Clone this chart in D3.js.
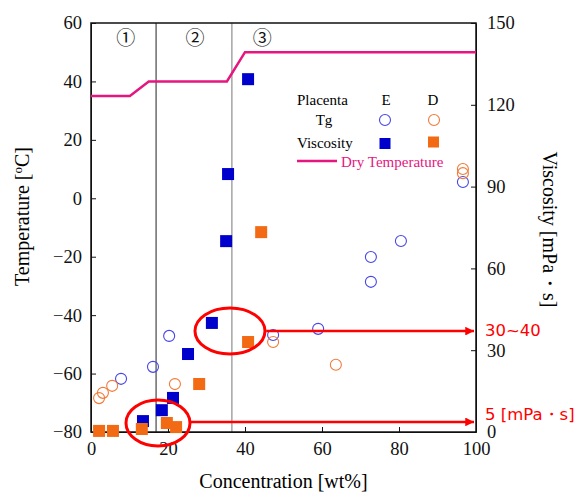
<!DOCTYPE html>
<html>
<head>
<meta charset="utf-8">
<script src="https://cdn.jsdelivr.net/npm/d3@7"></script>
<style>
  body { margin: 0; background: #fff; }
  svg { display: block; }
  .axis text { font-family: "Liberation Serif", serif; font-size: 18.5px; fill: #111; }
  .axis path, .axis line { stroke: #111; }
</style>
</head>
<body>
<script>
// data
const tgEX = [7.8, 16.1, 20.3, 47.3, 59, 72.7, 72.7, 80.5, 96.6];
const tgEY = [-61.8, -57.7, -47.1, -46.8, -44.7, -28.6, -20.1, -14.6, 5.6];
const tgDX = [2.1, 3.1, 5.5, 21.8, 47.3, 63.6, 96.6, 96.6];
const tgDY = [-68.4, -66.6, -64.2, -63.6, -49.2, -57, 10, 8.6];
const viscEX = [13.5, 18.4, 21.3, 25.2, 31.4, 35.1, 35.6, 40.8];
const viscEY = [4, 8, 12.5, 28.6, 40, 70, 94.6, 129.4];
const viscDX = [2.1, 5.7, 13.2, 19.7, 22.1, 28.1, 40.8, 44.2];
const viscDY = [0.4, 0.4, 1.1, 3.3, 1.8, 17.6, 33, 73.3];
const dryX = [0, 10.1, 15, 35.3, 40, 100];
const dryY = [35, 35, 40, 40, 50, 50];
const regionLines = [16.9, 36.6];
const regionNames = ["①", "②", "③"];
const regionMid = [9, 27, 44.5];
const tempTicks = [-80, -60, -40, -20, 0, 20, 40, 60];
const viscTicks = [0, 30, 60, 90, 120, 150];
const concTicks = [0, 20, 40, 60, 80, 100];
// annotations: ellipse centre (conc, temp), arrow start conc and viscosity level
const ringX = [36.1, 17.4];
const ringY = [-45.4, -76.9];
const arrowFrom = [45.5, 25.7];
const arrowVisc = [37, 3.7];
const arrowText = ["30~40", "5 [mPa・s]"];

const width = 580, height = 493;
const margin = { top: 23, right: 104, bottom: 61, left: 91 };
const pinkC = "#e6157f", redC = "#ff0000";

const svg = d3.select("body").append("svg")
  .attr("width", width).attr("height", height);

const x = d3.scaleLinear().domain([0, 100]).range([margin.left, width - margin.right]);
const yT = d3.scaleLinear().domain([-80, 60]).range([height - margin.bottom, margin.top]);
const yV = d3.scaleLinear().domain([0, 150]).range([height - margin.bottom, margin.top]);

const x0 = x(0), x1 = x(100), yb = yT(-80), yt = yT(60);

// region separators
svg.selectAll(".region").data(regionLines).enter().append("line")
  .attr("x1", d => x(d)).attr("x2", d => x(d))
  .attr("y1", yt).attr("y2", yb)
  .attr("stroke", (d, i) => i == 0 ? "#222" : "#777")
  .attr("stroke-width", 1);

svg.selectAll(".rname").data(regionNames).enter().append("text")
  .attr("x", (d, i) => x(regionMid[i])).attr("y", 45)
  .attr("text-anchor", "middle")
  .style("font-family", "'Noto Sans CJK JP', 'DejaVu Sans', sans-serif")
  .style("font-size", "19px").attr("fill", "#111")
  .text(d => d);

// axes
svg.append("g").attr("class", "axis")
  .attr("transform", `translate(${x0},0)`)
  .call(d3.axisLeft(yT).tickValues(tempTicks).tickSizeInner(-5).tickSizeOuter(0).tickPadding(9));
svg.append("g").attr("class", "axis")
  .attr("transform", `translate(${x1},0)`)
  .call(d3.axisRight(yV).tickValues(viscTicks).tickSizeInner(-5).tickSizeOuter(0).tickPadding(11));
svg.append("g").attr("class", "axis")
  .attr("transform", `translate(0,${yb})`)
  .call(d3.axisBottom(x).tickValues(concTicks).tickSizeInner(-5).tickSizeOuter(0).tickPadding(10));
svg.append("rect")
  .attr("x", x0).attr("y", yt).attr("width", x1 - x0).attr("height", yb - yt)
  .attr("fill", "none").attr("stroke", "#111").attr("stroke-width", 1.5);

// axis titles
svg.append("text")
  .attr("transform", `translate(29,${(yt + yb) / 2 - 11}) rotate(-90)`)
  .attr("text-anchor", "middle")
  .style("font-family", "'Liberation Serif', serif").style("font-size", "20px")
  .html('Temperature [<tspan baseline-shift="super" font-size="13px">o</tspan>C]');
svg.append("text")
  .attr("transform", `translate(543,${(yt + yb) / 2 + 2}) rotate(90)`)
  .attr("text-anchor", "middle")
  .style("font-family", "'Liberation Serif', serif").style("font-size", "20px")
  .text("Viscosity [mPa・s]");
svg.append("text")
  .attr("x", (x0 + x1) / 2).attr("y", 488)
  .attr("text-anchor", "middle")
  .style("font-family", "'Liberation Serif', serif").style("font-size", "20px")
  .text("Concentration [wt%]");

// dry temperature
const line = d3.line().x(d => x(d[0])).y(d => yT(d[1]));
svg.append("path")
  .attr("d", line(d3.zip(dryX, dryY)))
  .attr("fill", "none").attr("stroke", pinkC).attr("stroke-width", 2.5);

// Tg circles
function circles(xs, ys, color) {
  svg.append("g").selectAll("circle").data(d3.zip(xs, ys)).enter().append("circle")
    .attr("cx", d => x(d[0])).attr("cy", d => yT(d[1])).attr("r", 5.5)
    .attr("fill", "none").attr("stroke", color).attr("stroke-width", 1.1);
}
circles(tgEX, tgEY, "#4646e8");
circles(tgDX, tgDY, "#f27a38");

// viscosity squares
function squares(xs, ys, color) {
  svg.append("g").selectAll("rect").data(d3.zip(xs, ys)).enter().append("rect")
    .attr("x", d => x(d[0]) - 6).attr("y", d => yV(d[1]) - 6)
    .attr("width", 12).attr("height", 12)
    .attr("fill", color);
}
squares(viscEX, viscEY, "#0000cc");
squares(viscDX, viscDY, "#f26a14");

// legend
const lg = svg.append("g").style("font-family", "'Liberation Serif', serif").style("font-size", "15px");
lg.append("text").attr("x", 297).attr("y", 105).text("Placenta");
lg.append("text").attr("x", 386).attr("y", 105).attr("text-anchor", "middle").text("E");
lg.append("text").attr("x", 433).attr("y", 105).attr("text-anchor", "middle").text("D");
lg.append("text").attr("x", 324).attr("y", 125).attr("text-anchor", "middle").text("Tg");
lg.append("text").attr("x", 297).attr("y", 148).text("Viscosity");
lg.append("circle").attr("cx", 385).attr("cy", 120).attr("r", 5.5)
  .attr("fill", "none").attr("stroke", "#4646e8").attr("stroke-width", 1.1);
lg.append("circle").attr("cx", 434).attr("cy", 120).attr("r", 5.5)
  .attr("fill", "none").attr("stroke", "#f27a38").attr("stroke-width", 1.1);
lg.append("rect").attr("x", 379.5).attr("y", 138).attr("width", 11).attr("height", 11).attr("fill", "#0000cc");
lg.append("rect").attr("x", 428).attr("y", 136.5).attr("width", 11).attr("height", 11).attr("fill", "#f26a14");
lg.append("line").attr("x1", 297).attr("x2", 337).attr("y1", 161).attr("y2", 161)
  .attr("stroke", pinkC).attr("stroke-width", 2.5);
lg.append("text").attr("x", 341).attr("y", 167).attr("fill", pinkC).text("Dry Temperature");

// annotations
svg.append("defs").append("marker")
  .attr("id", "head").attr("viewBox", "0 0 10 10")
  .attr("refX", 10).attr("refY", 5)
  .attr("markerWidth", 4.5).attr("markerHeight", 3.5)
  .attr("markerUnits", "strokeWidth").attr("orient", "auto")
  .append("path").attr("d", "M0,0L10,5L0,10Z").attr("fill", redC);

svg.selectAll(".ring").data(ringX).enter().append("ellipse")
  .attr("cx", d => x(d)).attr("cy", (d, i) => yT(ringY[i]))
  .attr("rx", (d, i) => i == 0 ? 35 : 32).attr("ry", 23)
  .attr("fill", "none").attr("stroke", redC).attr("stroke-width", 3);

svg.selectAll(".arrow").data(arrowFrom).enter().append("line")
  .attr("x1", d => x(d)).attr("x2", x(100) - 2)
  .attr("y1", (d, i) => yV(arrowVisc[i])).attr("y2", (d, i) => yV(arrowVisc[i]))
  .attr("stroke", redC).attr("stroke-width", 2.5)
  .attr("marker-end", "url(#head)");

svg.selectAll(".atext").data(arrowText).enter().append("text")
  .attr("x", 485).attr("y", (d, i) => i == 0 ? 336 : 420)
  .attr("fill", redC)
  .style("font-family", "'DejaVu Sans', sans-serif").style("font-size", "16.5px")
  .text(d => d);
</script>
</body>
</html>
